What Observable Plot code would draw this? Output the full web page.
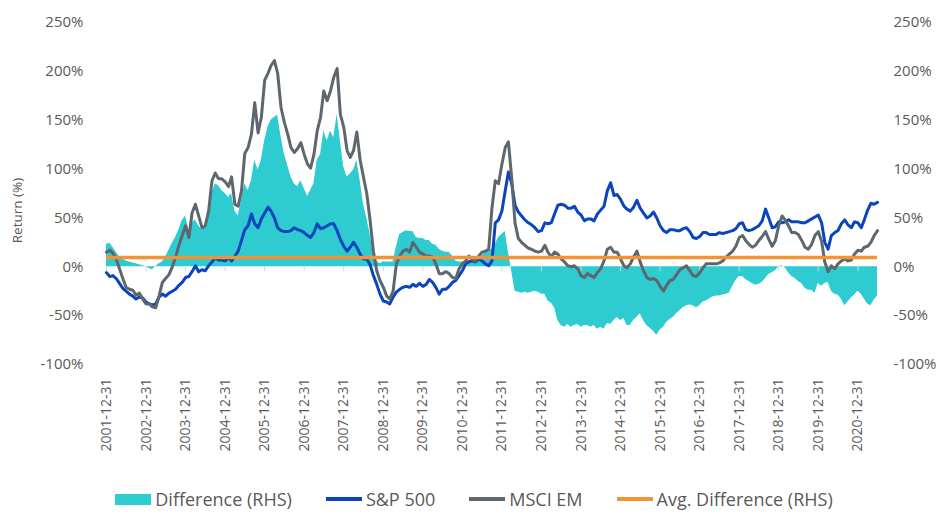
<!DOCTYPE html>
<html>
<head>
<meta charset="utf-8">
<script src="https://cdn.jsdelivr.net/npm/d3@7"></script>
<script src="https://cdn.jsdelivr.net/npm/@observablehq/plot@0.6"></script>
<style>
  html, body { margin: 0; padding: 0; background: #ffffff; }
  #chart { width: 948px; }
  #legend { display: flex; justify-content: center; align-items: center; font-family: "Open Sans", Lato, sans-serif; font-size: 18px; color: #595959; height: 24px; margin-top: 9px; }
  .item { display: flex; align-items: center; margin: 0 17px; }
  .sw { display: inline-block; width: 36px; margin-right: 4px; }
</style>
</head>
<body>
<div id="chart"></div>
<div id="legend"></div>
<script>
// Monthly month-end observations starting 2001-12-31
const startMonth = "2001-12-31";
const sp500 = [
 -6,-10,-9,-12,-17,-22,-25,-28,-30,-33,-31,-32,-36,-38,-39,-38,-31,-28,-30,-27,
 -25,-23,-19,-16,-11,-10,-5,1,-5,-3,-4,1,5,9,7,7,6,9,6,11,
 16,27,38,42,54,44,40,49,55,61,57,50,40,37,36,36,37,40,38,37,
 35,32,30,35,44,39,40,42,44,44,37,28,21,16,20,25,20,13,8,8,
 2,-9,-18,-28,-35,-36,-38,-31,-26,-23,-21,-20,-21,-18,-20,-17,-20,-18,-13,-16,
 -21,-28,-23,-23,-20,-16,-14,-9,-4,3,5,6,5,8,6,3,1,6,45,48,
 57,78,97,85,63,56,52,48,45,43,40,36,37,45,44,45,54,63,64,63,
 60,60,62,56,53,47,49,49,47,54,58,62,78,86,73,74,69,62,59,57,
 61,68,60,55,50,52,56,50,42,37,35,38,38,37,37,39,40,36,30,29,
 31,35,35,33,33,33,35,34,35,36,37,39,44,45,38,37,38,40,42,47,
 59,50,40,41,46,45,46,48,46,46,46,45,45,47,49,51,53,45,25,18,
 32,35,37,44,48,43,40,46,45,40,48,58,65,64,66
];
const msciEM = [
 15,17,14,8,-2,-12,-21,-23,-24,-29,-27,-33,-38,-38,-41,-42,-30,-16,-12,-8,
 0,10,22,32,42,30,55,64,52,40,42,57,88,96,90,90,87,82,92,64,
 62,78,116,122,136,168,137,153,191,198,206,211,198,163,148,136,122,117,121,127,
 115,105,101,115,139,153,180,170,180,194,203,156,143,119,112,119,138,109,92,75,
 47,16,-4,-14,-21,-30,-33,-25,3,11,16,18,15,25,20,15,13,11,11,10,
 3,-7,-7,-5,-7,-11,-12,-2,3,6,11,8,6,11,15,16,18,60,88,85,
 105,122,128,90,45,29,25,22,19,18,16,15,16,22,15,10,15,13,8,5,
 1,0,1,-2,-9,-11,-7,-9,-11,-6,-2,6,18,20,15,15,8,1,-1,3,
 10,16,5,-4,-11,-13,-12,-14,-20,-25,-19,-14,-13,-8,-3,-1,1,-4,-9,-10,
 -6,-1,3,3,3,3,4,6,10,13,16,21,30,32,27,23,20,22,27,31,
 36,28,21,27,42,52,48,42,35,35,33,27,20,18,23,32,36,26,5,-5,
 1,-2,3,6,8,6,7,13,17,16,20,21,25,32,37
];
const difference = [
 23,24,20,15,10,8,6,5,4,3,2,1,0,-2,-3,0,3,5,10,17,
 24,30,38,47,52,38,45,48,42,38,42,55,75,85,83,78,75,71,75,57,
 52,68,85,78,88,109,99,109,129,143,150,153,155,133,116,104,92,85,82,88,
 80,72,78,85,109,115,139,129,139,132,156,129,102,92,95,99,109,88,64,50,
 33,13,6,3,5,5,5,5,20,33,35,37,36,36,30,29,29,27,27,23,
 22,18,16,15,15,11,6,5,5,6,6,8,6,10,11,15,16,18,23,30,
 33,36,15,-5,-25,-26,-27,-26,-27,-26,-25,-26,-28,-28,-35,-37,-42,-55,-60,-62,
 -59,-62,-60,-59,-62,-60,-60,-62,-60,-64,-62,-64,-58,-59,-55,-52,-55,-53,-60,-60,
 -55,-52,-48,-55,-60,-63,-66,-70,-65,-62,-57,-54,-52,-48,-45,-42,-40,-39,-40,-42,
 -40,-36,-35,-33,-31,-30,-30,-29,-28,-27,-20,-14,-10,-10,-13,-15,-17,-19,-18,-16,
 -12,-8,-6,-4,0,1,-1,-6,-10,-12,-15,-17,-22,-24,-24,-27,-17,-20,-17,-16,
 -25,-28,-29,-33,-40,-36,-32,-29,-25,-28,-33,-38,-40,-34,-30
];
const avgDifference = 9.5;
const yTicks = [-100, -50, 0, 50, 100, 150, 200, 250];
const tickYears = [2001,2002,2003,2004,2005,2006,2007,2008,2009,2010,2011,2012,2013,2014,2015,2016,2017,2018,2019,2020];
const yLabel = "Return (%)";

const start = d3.utcParse("%Y-%m-%d")(startMonth);
const monthEnd = i => d3.utcDay.offset(d3.utcMonth.offset(d3.utcDay.offset(start, 1), i), -1);
const data = sp500.map((v, i) => ({date: monthEnd(i), sp: v, em: msciEM[i], diff: difference[i]}));
const tickDates = tickYears.map(y => new Date(Date.UTC(y, 11, 31)));
const fmt = d3.utcFormat("%Y-%m-%d");
const pct = d => `${d}%`;

const chart = Plot.plot({
  width: 948,
  height: 478,
  marginLeft: 106,
  marginRight: 71,
  marginTop: 22,
  marginBottom: 114,
  x: {type: "utc", domain: [data[0].date, data[data.length - 1].date]},
  y: {domain: [-100, 250]},
  style: {fontFamily: "'Open Sans', Lato, sans-serif", color: "#595959", background: "#ffffff", overflow: "visible"},
  marks: [
    Plot.areaY(data, {x: "date", y: "diff", fill: "#2ECBD0"}),
    Plot.ruleX(tickDates, {x: d => d, y1: 0, y2: -5, stroke: "#d4d4d4", strokeWidth: 1}),
    Plot.lineY(data, {x: "date", y: "sp", stroke: "#0A45BE", strokeWidth: 3}),
    Plot.lineY(data, {x: "date", y: "em", stroke: "#5E666E", strokeWidth: 3}),
    Plot.ruleY([avgDifference], {stroke: "#F39333", strokeWidth: 3.5}),
    Plot.axisX({ticks: tickDates, tickFormat: fmt, tickRotate: -90, tickSize: 0, tickPadding: 14, fontSize: 14, label: null}),
    Plot.axisY({anchor: "left", ticks: yTicks, tickFormat: pct, tickSize: 0, tickPadding: 23, fontSize: 15, label: null}),
    Plot.axisY({anchor: "right", ticks: yTicks, tickFormat: pct, tickSize: 0, tickPadding: 16, fontSize: 15, label: null}),
    Plot.text([yLabel], {text: d => d, frameAnchor: "left", textAnchor: "middle", rotate: -90, dx: -89, dy: 17, fontSize: 13.5, fill: "#595959"})
  ]
});
document.getElementById("chart").appendChild(chart);

const legendItems = [
  {label: "Difference (RHS)", color: "#2ECBD0", kind: "box"},
  {label: "S&P 500", color: "#0A45BE", kind: "line"},
  {label: "MSCI EM", color: "#5E666E", kind: "line"},
  {label: "Avg. Difference (RHS)", color: "#F39333", kind: "line"}
];
const legend = document.getElementById("legend");
for (const it of legendItems) {
  const item = document.createElement("span");
  item.className = "item";
  const sw = document.createElement("span");
  sw.className = "sw";
  sw.style.background = it.color;
  sw.style.height = it.kind === "box" ? "11px" : "4px";
  const tx = document.createElement("span");
  tx.textContent = it.label;
  item.appendChild(sw);
  item.appendChild(tx);
  legend.appendChild(item);
}
</script>
</body>
</html>
